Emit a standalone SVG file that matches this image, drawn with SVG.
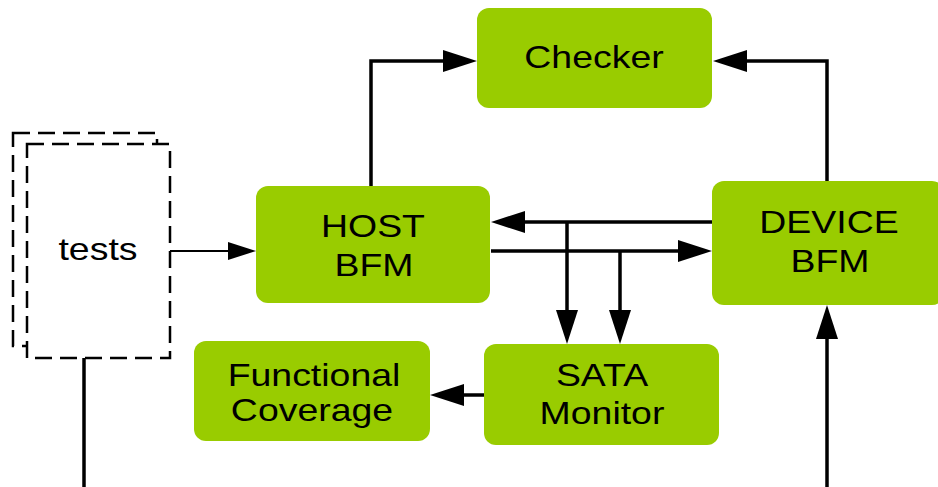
<svg xmlns="http://www.w3.org/2000/svg" width="938" height="487" viewBox="0 0 938 487">
<style>
.box{fill:#99cc00;}
.lbl{font-family:"Liberation Sans",Arial,sans-serif;font-size:32px;fill:#000;text-anchor:middle;}
.dash{fill:#fff;stroke:#000;stroke-width:2.5;stroke-dasharray:17 8;}
.con{fill:none;stroke:#000;stroke-width:3.5;}
.thin{fill:none;stroke:#000;stroke-width:2;}
</style>
<defs>
<marker id="ah" markerUnits="userSpaceOnUse" markerWidth="34" markerHeight="22" refX="24" refY="11" orient="auto">
<path d="M0,0 L34,11 L0,22 z" fill="#000"/>
</marker>
<marker id="ahs" markerUnits="userSpaceOnUse" markerWidth="28" markerHeight="18" refX="20" refY="9" orient="auto">
<path d="M0,0 L28,9 L0,18 z" fill="#000"/>
</marker>
</defs>
<rect width="938" height="487" fill="#fff"/>
<g id="tests">
<rect class="dash" x="13" y="133" width="144" height="213"/>
<rect class="dash" x="27" y="144" width="143" height="214"/>
<text class="lbl" transform="translate(98,260) scale(1.17,1)">tests</text>
</g>
<g id="checker">
<rect class="box" x="477" y="8" width="235" height="100" rx="12"/>
<text class="lbl" transform="translate(594,68) scale(1.17,1)">Checker</text>
</g>
<g id="host">
<rect class="box" x="256" y="186" width="234" height="117" rx="12"/>
<text class="lbl" transform="translate(373,237) scale(1.17,1)">HOST</text>
<text class="lbl" transform="translate(374,276) scale(1.17,1)">BFM</text>
</g>
<g id="device">
<rect class="box" x="712" y="181" width="232" height="124" rx="12"/>
<text class="lbl" transform="translate(829,233) scale(1.17,1)">DEVICE</text>
<text class="lbl" transform="translate(830,272) scale(1.17,1)">BFM</text>
</g>
<g id="coverage">
<rect class="box" x="194" y="341" width="236" height="100" rx="12"/>
<text class="lbl" transform="translate(314,386) scale(1.17,1)">Functional</text>
<text class="lbl" transform="translate(312,421) scale(1.17,1)">Coverage</text>
</g>
<g id="monitor">
<rect class="box" x="484" y="344" width="235" height="101" rx="12"/>
<text class="lbl" transform="translate(602,386) scale(1.17,1)">SATA</text>
<text class="lbl" transform="translate(602,424) scale(1.17,1)">Monitor</text>
</g>
<g id="connectors">
<path class="thin" d="M170,251 H248" marker-end="url(#ahs)"/>
<path class="con" d="M371,186 V61 H467" marker-end="url(#ah)"/>
<path class="con" d="M827,181 V61 H723" marker-end="url(#ah)"/>
<path class="con" d="M712,222 H501" marker-end="url(#ah)"/>
<path class="con" d="M491,251 H702" marker-end="url(#ah)"/>
<path class="con" d="M567,222 V334" marker-end="url(#ah)"/>
<path class="con" d="M620,251 V334" marker-end="url(#ah)"/>
<path class="con" d="M484,395 H440" marker-end="url(#ah)"/>
<path class="con" d="M827,487 V315" marker-end="url(#ah)"/>
<path class="con" d="M84,358 V487"/>
</g>
</svg>
